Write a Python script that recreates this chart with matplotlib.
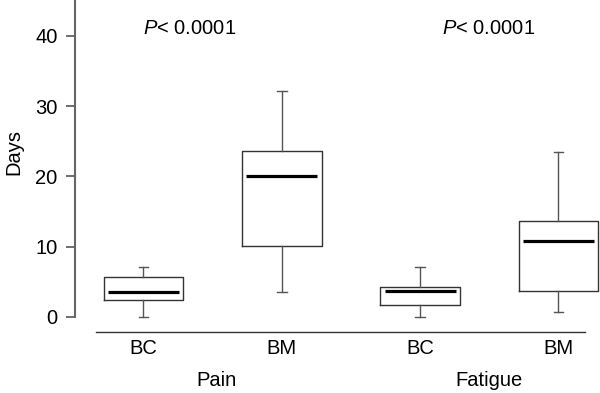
import matplotlib
matplotlib.use("Agg")
import matplotlib.pyplot as plt

plt.rcParams['font.family'] = ['Liberation Sans', 'DejaVu Sans']
plt.rcParams['mathtext.fontset'] = 'custom'
plt.rcParams['mathtext.it'] = 'Liberation Sans:italic'
plt.rcParams['mathtext.rm'] = 'Liberation Sans'

# box summaries (days)
labels = ['BC', 'BM', 'BC', 'BM']
groups = ['Pain', 'Fatigue']
whislo = [0.05, 3.6, 0.05, 0.7]
q1 = [2.4, 10.1, 1.7, 3.7]
med = [3.6, 20.0, 3.65, 10.8]
q3 = [5.75, 23.6, 4.3, 13.6]
whishi = [7.15, 32.2, 7.15, 23.5]
pvals = ['$P$< 0.0001', '$P$< 0.0001']

stats = []
for i in range(4):
    stats.append(dict(label=labels[i], whislo=whislo[i], q1=q1[i], med=med[i],
                      q3=q3[i], whishi=whishi[i], fliers=[]))

fs = 14.5

fig = plt.figure(figsize=(6, 3.93), dpi=100)
ax = fig.add_axes([0.125, 0.156, 0.875, 0.844])

pos = [1, 2, 3, 4]
res = ax.bxp(stats, positions=pos, widths=0.575, capwidths=0.07, showfliers=False,
             boxprops=dict(color='#333333', linewidth=1.0),
             whiskerprops=dict(color='#555555', linewidth=1.0),
             capprops=dict(color='#555555', linewidth=1.0),
             medianprops=dict(color='black', linewidth=2.3, solid_capstyle='butt'))
# medians a bit shorter than the box
for ln in res['medians']:
    x0, x1 = ln.get_xdata()[:2]
    ln.set_xdata([x0 + 0.03, x1 - 0.03])

ax.set_xlim(0.505, 4.3)
ax.set_ylim(-2.1, 45.1)
ax.set_yticks([0, 10, 20, 30, 40])
ax.set_xticks(pos)
ax.set_xticklabels(labels)
ax.tick_params(axis='y', labelsize=fs, length=6.5, width=1.2, color='#555555', pad=6)
ax.tick_params(axis='x', labelsize=fs, length=0, pad=5)

for s in ['top', 'right']:
    ax.spines[s].set_visible(False)
ax.spines['left'].set_bounds(0, 45.1)
ax.spines['left'].set_color('#666666')
ax.spines['left'].set_linewidth(1.5)
ax.spines['bottom'].set_bounds(0.657, 4.19)
ax.spines['bottom'].set_color('#333333')
ax.spines['bottom'].set_linewidth(1.0)

ax.set_ylabel('Days', fontsize=fs, va='center')
ax.yaxis.set_label_coords(-0.116, 0.542)

tr = ax.get_xaxis_transform()
ax.text(1.53, -0.146, groups[0], transform=tr, ha='center', va='center', fontsize=fs)
ax.text(3.5, -0.146, groups[1], transform=tr, ha='center', va='center', fontsize=fs)

ax.text(1.0, 41.1, pvals[0], ha='left', va='center', fontsize=fs)
ax.text(3.16, 41.1, pvals[1], ha='left', va='center', fontsize=fs)

fig.savefig('out.png', dpi=100)
